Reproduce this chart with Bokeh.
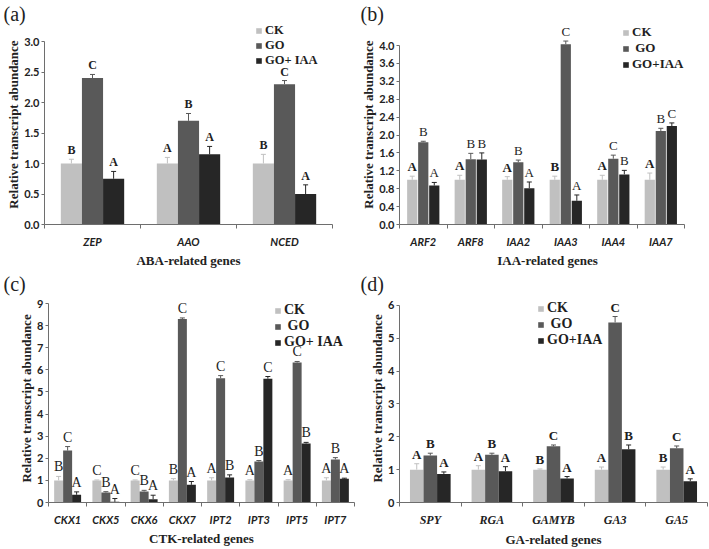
import numpy as np
from bokeh.plotting import figure
from bokeh.models import (ColumnDataSource, Range1d, LinearAxis, FixedTicker,
                          Whisker, TeeHead, Legend, LegendItem, Title,
                          NumeralTickFormatter)
from bokeh.layouts import column, row
from bokeh.embed import file_html
from bokeh.resources import INLINE
from bokeh.core.properties import value

# ---------------- data ----------------
a_genes = ["ZEP", "AAO", "NCED"]
a_ck = [1.00, 1.00, 1.00]
a_ck_err = [0.07, 0.10, 0.15]
a_go = [2.40, 1.70, 2.30]
a_go_err = [0.06, 0.12, 0.06]
a_gi = [0.75, 1.15, 0.50]
a_gi_err = [0.12, 0.13, 0.15]
a_ck_let = ["B", "A", "B"]
a_go_let = ["C", "B", "C"]
a_gi_let = ["A", "A", "A"]
a_yticks = [0.0, 0.5, 1.0, 1.5, 2.0, 2.5, 3.0]
a_series = ["CK", "GO", "GO+ IAA"]

b_genes = ["ARF2", "ARF8", "IAA2", "IAA3", "IAA4", "IAA7"]
b_ck = [1.00, 1.00, 1.00, 1.00, 1.00, 1.00]
b_ck_err = [0.08, 0.10, 0.07, 0.08, 0.10, 0.15]
b_go = [1.84, 1.46, 1.39, 4.03, 1.47, 2.09]
b_go_err = [0.02, 0.13, 0.05, 0.07, 0.08, 0.06]
b_gi = [0.87, 1.45, 0.81, 0.53, 1.12, 2.20]
b_gi_err = [0.07, 0.15, 0.14, 0.13, 0.09, 0.07]
b_ck_let = ["A", "A", "A", "B", "A", "A"]
b_go_let = ["B", "B", "B", "C", "C", "B"]
b_gi_let = ["A", "B", "A", "A", "B", "C"]
b_yticks = [0.0, 0.4, 0.8, 1.2, 1.6, 2.0, 2.4, 2.8, 3.2, 3.6, 4.0]
b_series = ["CK", " GO", "GO+IAA"]

c_genes = ["CKX1", "CKX5", "CKX6", "CKX7", "IPT2", "IPT3", "IPT5", "IPT7"]
c_ck = [1.00, 1.00, 1.00, 1.00, 1.00, 1.00, 1.00, 1.00]
c_ck_err = [0.18, 0.02, 0.02, 0.08, 0.12, 0.03, 0.03, 0.12]
c_go = [2.35, 0.45, 0.50, 8.30, 5.62, 1.85, 6.33, 1.95]
c_go_err = [0.18, 0.04, 0.05, 0.05, 0.12, 0.05, 0.05, 0.08]
c_gi = [0.35, 0.03, 0.15, 0.80, 1.13, 5.60, 2.67, 1.07]
c_gi_err = [0.13, 0.15, 0.18, 0.15, 0.12, 0.10, 0.05, 0.03]
c_ck_let = ["B", "C", "C", "B", "A", "A", "A", "A"]
c_go_let = ["C", "B", "B", "C", "C", "B", "C", "B"]
c_gi_let = ["A", "A", "A", "A", "B", "C", "B", "A"]
c_yticks = [0, 1, 2, 3, 4, 5, 6, 7, 8, 9]
c_series = ["CK", " GO", "GO+ IAA"]

d_genes = ["SPY", "RGA", "GAMYB", "GA3", "GA5"]
d_ck = [1.00, 1.00, 1.00, 1.00, 1.00]
d_ck_err = [0.18, 0.12, 0.02, 0.08, 0.08]
d_go = [1.43, 1.45, 1.71, 5.48, 1.65]
d_go_err = [0.07, 0.05, 0.04, 0.18, 0.07]
d_gi = [0.87, 0.95, 0.73, 1.62, 0.65]
d_gi_err = [0.06, 0.14, 0.06, 0.13, 0.07]
d_ck_let = ["A", "A", "B", "A", "B"]
d_go_let = ["B", "B", "C", "C", "C"]
d_gi_let = ["A", "A", "A", "B", "A"]
d_yticks = [0, 1, 2, 3, 4, 5, 6]
d_series = ["CK", " GO", "GO+IAA"]

# ---------------- style ----------------
COLORS = ["#c0c0c0", "#595959", "#262626"]
AXC = "#6e6e6e"
SERIF = "Liberation Serif"
SANS = "Lato"


def make_panel(genes, series_vals, series_errs, series_lets, series_names,
               yticks, ytop, yend, xend, yfmt, xlabel, tag, tag_off,
               width, height, borders, bar_w, offs,
               let_styles, let_size, gene_font, gene_size,
               leg_xy, leg_sp, leg_fs):
    n = len(genes)
    bl, br, bt, bb = borders
    p = figure(width=width, height=height,
               x_range=Range1d(0, xend), y_range=Range1d(0, yend),
               x_axis_type=None, y_axis_type=None,
               toolbar_location=None, output_backend="svg",
               min_border_left=bl, min_border_right=br,
               min_border_top=bt, min_border_bottom=bb,
               outline_line_color=None, background_fill_color="white",
               border_fill_color="white")
    p.title = Title(text=tag, align="left", offset=tag_off, standoff=0,
                    text_font=SERIF, text_font_size="20px",
                    text_font_style="normal", text_color="#222222")

    base = np.arange(n) + 0.5
    renderers = []
    for k in range(3):
        vals = np.array(series_vals[k], dtype=float)
        errs = np.array(series_errs[k], dtype=float)
        xs = base + offs[k]
        src = ColumnDataSource(dict(x=xs, top=vals, upper=vals + errs,
                                    lower=vals, let=series_lets[k]))
        r = p.vbar(x="x", top="top", width=bar_w, source=src,
                   fill_color=COLORS[k], line_color=None)
        renderers.append(r)
        w = Whisker(base="x", upper="upper", lower="lower", source=src,
                    dimension="height", line_color=COLORS[k], line_width=1,
                    upper_head=TeeHead(size=5, line_color=COLORS[k], line_width=1),
                    lower_head=None)
        p.add_layout(w)
        p.text(x="x", y="upper", text="let", source=src,
               text_align="center", text_baseline="bottom", y_offset=-2,
               text_font=value(SERIF), text_font_style=let_styles[k],
               text_font_size=let_size, text_color="#1e1e1e")

    yax = LinearAxis(ticker=FixedTicker(ticks=yticks), bounds=(0, ytop),
                     formatter=NumeralTickFormatter(format=yfmt),
                     axis_line_color=AXC, major_tick_line_color=AXC,
                     major_tick_out=3, major_tick_in=0,
                     minor_tick_line_color=None,
                     major_label_text_font=SANS,
                     major_label_text_font_style="bold",
                     major_label_text_font_size="11px",
                     major_label_text_color="#222222",
                     major_label_standoff=2,
                     axis_label="Relative transcript abundance",
                     axis_label_text_font=SERIF,
                     axis_label_text_font_style="bold",
                     axis_label_text_font_size="13px",
                     axis_label_text_color="#222222",
                     axis_label_standoff=0)
    p.add_layout(yax, "left")

    bounds = list(range(n + 1))
    ax1 = LinearAxis(ticker=FixedTicker(ticks=bounds), bounds=(0, n),
                     major_label_overrides={b: "" for b in bounds},
                     major_label_text_font_size="0px",
                     major_label_standoff=0,
                     axis_line_color=AXC, major_tick_line_color=AXC,
                     major_tick_out=4, major_tick_in=0,
                     minor_tick_line_color=None)
    p.add_layout(ax1, "below")
    centers = [i + 0.5 for i in range(n)]
    ax2 = LinearAxis(ticker=FixedTicker(ticks=centers),
                     major_label_overrides={c: g for c, g in zip(centers, genes)},
                     axis_line_color=None, major_tick_line_color=None,
                     minor_tick_line_color=None,
                     major_tick_out=0, major_tick_in=0,
                     major_label_standoff=6,
                     major_label_text_font=gene_font,
                     major_label_text_font_style="bold italic",
                     major_label_text_font_size=gene_size,
                     major_label_text_color="#222222",
                     axis_label=xlabel,
                     axis_label_text_font=SERIF,
                     axis_label_text_font_style="bold",
                     axis_label_text_font_size="13px",
                     axis_label_text_color="#222222",
                     axis_label_standoff=2)
    p.add_layout(ax2, "below")

    legend = Legend(items=[LegendItem(label=s, renderers=[r])
                           for s, r in zip(series_names, renderers)],
                    location=leg_xy, orientation="vertical",
                    glyph_width=7, glyph_height=7,
                    label_height=12, spacing=leg_sp,
                    padding=0, margin=0, label_standoff=3,
                    border_line_color=None, background_fill_alpha=0,
                    label_text_font=SERIF, label_text_font_style="bold",
                    label_text_font_size=leg_fs, label_text_color="#1e1e1e")
    p.add_layout(legend)
    return p


pa = make_panel(a_genes, [a_ck, a_go, a_gi], [a_ck_err, a_go_err, a_gi_err],
                [a_ck_let, a_go_let, a_gi_let], a_series,
                a_yticks, 3.0, 3.279, 3, "0.0", "ABA-related genes", "(a)", -41,
                355, 270, (44, 23, 24, 46), 0.22, [-0.22, 0.0, 0.22],
                ["bold", "bold", "bold"], "12px", SANS, "11px",
                (211, 156), -4, "12.5px")

pb = make_panel(b_genes, [b_ck, b_go, b_gi], [b_ck_err, b_go_err, b_gi_err],
                [b_ck_let, b_go_let, b_gi_let], b_series,
                b_yticks, 4.0, 4.47, 6.23, "0.0", "IAA-related genes", "(b)", -39,
                354, 270, (44, 14, 24, 46), 0.215, [-0.232, 0.0, 0.232],
                ["bold", "normal", "normal"], "13px", SANS, "11px",
                (223, 152), -2, "13px")

pc = make_panel(c_genes, [c_ck, c_go, c_gi], [c_ck_err, c_go_err, c_gi_err],
                [c_ck_let, c_go_let, c_gi_let], c_series,
                c_yticks, 9.0, 9.41, 8, "0", "CTK-related genes", "(c)", -45,
                355, 279, (48, 1, 24, 47), 0.235, [-0.235, 0.0, 0.235],
                ["normal", "normal", "normal"], "14px", SANS, "11px",
                (226, 152), 0, "14px")

pd_ = make_panel(d_genes, [d_ck, d_go, d_gi], [d_ck_err, d_go_err, d_gi_err],
                 [d_ck_let, d_go_let, d_gi_let], d_series,
                 d_yticks, 6.0, 6.33, 5, "0", "GA-related genes", "(d)", -39,
                 354, 279, (44, 2, 24, 46), 0.22, [-0.22, 0.0, 0.22],
                 ["bold", "bold", "bold"], "13px", SERIF, "12px",
                 (138, 154), -1, "14px")

layout = column(row(pa, pb), row(pc, pd_))
open("out.html", "w").write(file_html(layout, INLINE))
